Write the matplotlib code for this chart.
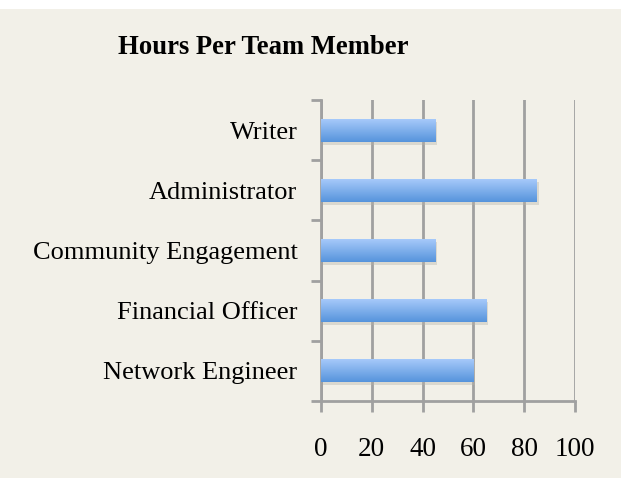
import numpy as np
import matplotlib.pyplot as plt
from matplotlib.patches import Rectangle
from matplotlib.colors import LinearSegmentedColormap

categories = ['Network Engineer', 'Financial Officer', 'Community Engagement',
              'Administrator', 'Writer']
hours = [60, 65, 45, 85, 45]
xticks = [0, 20, 40, 60, 80, 100]

bg = '#f2f0e8'
grid_col = '#a0a0a0'
plt.rcParams['font.family'] = ['Liberation Serif', 'DejaVu Serif']

fig = plt.figure(figsize=(6.21, 4.78), dpi=100, facecolor=bg)
fig.patches.append(Rectangle((0, 1 - 9 / 478), 1, 9 / 478, transform=fig.transFigure,
                             facecolor='white', edgecolor='none', zorder=0))
ax = fig.add_axes([321 / 621, 77 / 478, 254 / 621, 301 / 478])
ax.set_facecolor(bg)

y = np.arange(len(categories))
h = 0.38

# soft shadow under each bar
ax.barh(y - 0.05, hours, height=h, left=0.7, color='#b8b4aa', alpha=0.4,
        zorder=2, linewidth=0)
bars = ax.barh(y, hours, height=h, color='#7aacec', zorder=3, linewidth=0)

grad = np.linspace(0, 1, 64).reshape(-1, 1)
cmap = LinearSegmentedColormap.from_list('bar', ['#a6c9fa', '#5694dc'])
for b in bars:
    x0, y0 = b.get_x(), b.get_y()
    im = ax.imshow(grad, cmap=cmap, aspect='auto', zorder=4,
                   extent=[x0, x0 + b.get_width(), y0, y0 + b.get_height()])
    im.set_clip_path(b)

ax.set_xlim(0, 100)
ax.set_ylim(-0.5, len(categories) - 0.5)
ax.set_xticks(xticks)
ax.set_yticks(y)
ax.set_yticklabels(categories)
ax.set_yticks(np.arange(-0.5, len(categories), 1), minor=True)

ax.xaxis.grid(True, color=grid_col, linewidth=2, zorder=1)
ax.set_axisbelow(True)
for s in ['top', 'right']:
    ax.spines[s].set_visible(False)
for s in ['left', 'bottom']:
    ax.spines[s].set_color(grid_col)
    ax.spines[s].set_linewidth(2)

ax.tick_params(axis='y', which='major', length=0, pad=17, labelsize=19)
ax.tick_params(axis='y', which='minor', length=7, width=2, color=grid_col)
ax.tick_params(axis='x', length=8, width=2, color=grid_col, pad=18,
               labelsize=19.5)

fig.text(263 / 621, 1 - 48 / 478, 'Hours Per Team Member', ha='center',
         va='center', fontsize=19.2, fontweight='bold')

fig.savefig('out.png', dpi=100, facecolor=bg)
